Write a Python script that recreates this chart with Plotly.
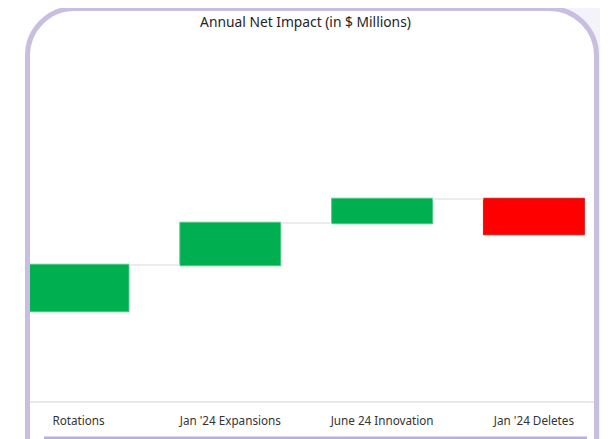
import plotly.graph_objects as go

# ---- data ----
categories = ["Rotations", "Jan '24 Expansions", "June 24 Innovation", "Jan '24 Deletes"]
impact_values = [4.6, 4.2, 2.4, -3.5]
measures = ["relative", "relative", "relative", "relative"]
chart_title = "Annual Net Impact (in $ Millions)"

# ---- layout helpers (decoration only) ----
OFF = 8            # page body margin of the rendered html
W, H = 600, 431    # figure size so it fits the 608x439 window after the body margin
M_T, M_B = 32, 38
PLOT_BOTTOM = H - M_B
PLOT_H = H - M_T - M_B
FONT = "Noto Sans, Open Sans, sans-serif"


def px(x):
    """screen x -> paper x"""
    return (x - OFF) / W


def py(y):
    """screen y -> paper y"""
    return (PLOT_BOTTOM - (y - OFF)) / PLOT_H


def rounded_rect_path(x0, y0, x1, y1, r):
    k = 0.5523 * r
    pts = [
        ("M", [(x0, y0 + r)]),
        ("C", [(x0, y0 + r - k), (x0 + r - k, y0), (x0 + r, y0)]),
        ("L", [(x1 - r, y0)]),
        ("C", [(x1 - r + k, y0), (x1, y0 + r - k), (x1, y0 + r)]),
        ("L", [(x1, y1 - r)]),
        ("C", [(x1, y1 - r + k), (x1 - r + k, y1), (x1 - r, y1)]),
        ("L", [(x0 + r, y1)]),
        ("C", [(x0 + r - k, y1), (x0, y1 - r + k), (x0, y1 - r)]),
    ]
    s = ""
    for cmd, coords in pts:
        s += cmd + " " + " ".join(f"{px(a):.5f},{py(b):.5f}" for a, b in coords) + " "
    return s + "Z"


card_path = rounded_rect_path(27.5, 8.5, 596.5, 490, 47)

fig = go.Figure(
    go.Waterfall(
        x=categories,
        y=impact_values,
        measure=measures,
        base=0,
        increasing=dict(marker=dict(color="#00b050", line=dict(color="#4cc784", width=1))),
        decreasing=dict(marker=dict(color="#ff0000", line=dict(color="#d91a1a", width=1))),
        connector=dict(line=dict(color="#e6e6e6", width=1.5), mode="between"),
        hoverinfo="x+y",
    )
)

shapes = [
    # light lavender page area at right
    dict(type="rect", xref="paper", yref="paper", x0=px(467), x1=px(620), y0=py(460), y1=py(0),
         fillcolor="#f4f3f9", line=dict(width=0), layer="below"),
    # card fill
    dict(type="path", xref="paper", yref="paper", path=card_path,
         fillcolor="white", line=dict(width=0), layer="below"),
    # card border
    dict(type="path", xref="paper", yref="paper", path=card_path,
         fillcolor="rgba(0,0,0,0)", line=dict(color="#c8bedf", width=5), layer="above"),
    # inner bottom line
    dict(type="line", xref="paper", yref="paper", x0=px(44), x1=px(587), y0=py(437.8), y1=py(437.8),
         line=dict(color="#b9aee0", width=2.5), layer="above"),
]

fig.update_layout(
    width=W,
    height=H,
    margin=dict(l=0, r=0, t=M_T, b=M_B, pad=0),
    paper_bgcolor="white",
    plot_bgcolor="rgba(0,0,0,0)",
    showlegend=False,
    waterfallgap=0.335,
    title=dict(text=chart_title, x=(305.5 - OFF) / W, xanchor="center", xref="paper",
               y=(H - (22 - OFF)) / H, yanchor="middle", yref="container",
               font=dict(family=FONT, size=13.8, color="#252423")),
    font=dict(family=FONT, size=12, color="#333333"),
    xaxis=dict(
        domain=[(30 - OFF) / W, (595 - OFF) / W],
        range=[-0.3195, 3.4025],
        showgrid=False,
        zeroline=False,
        showline=True,
        linecolor="#e8e8e8",
        linewidth=1.5,
        ticks="",
        ticklabelstandoff=8,
        tickfont=dict(family=FONT, size=11.7, color="#333333"),
    ),
    yaxis=dict(
        range=[-9, 27.1],
        visible=False,
        showgrid=False,
        zeroline=False,
    ),
    shapes=shapes,
)

fig.write_html("out.html")
